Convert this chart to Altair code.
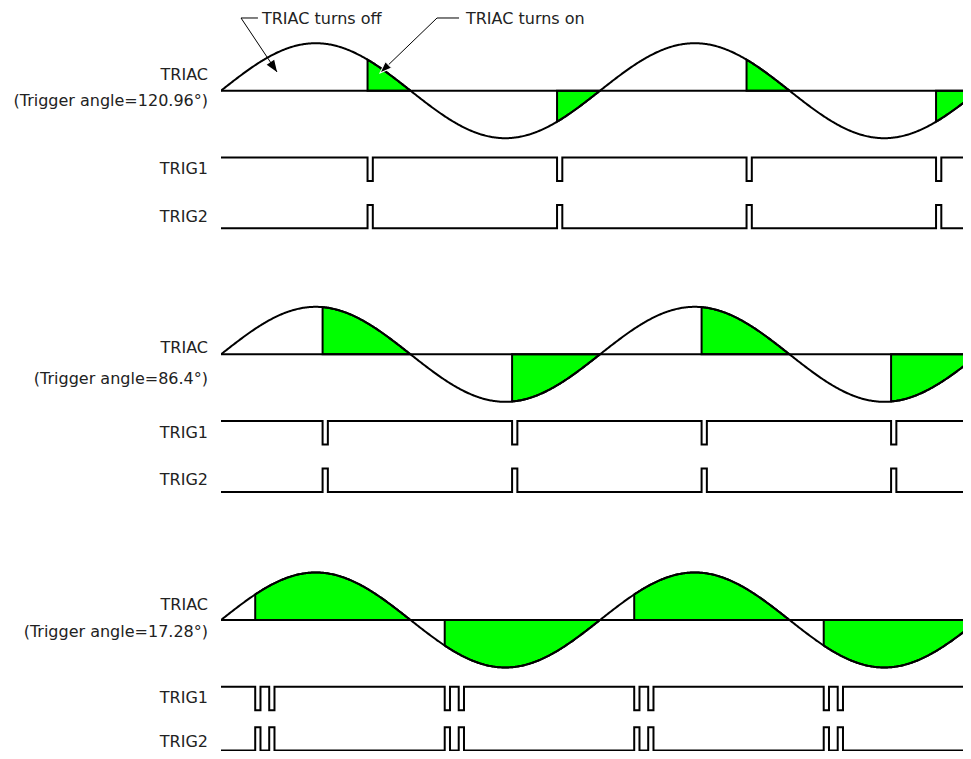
import numpy as np
import pandas as pd
import altair as alt

# ---------------- values ----------------
panels = [0, 1, 2]
trigger_angle_text = ["120.96°", "86.4°", "17.28°"]
# firing point after every zero crossing, as drawn (degrees)
firing_deg = [139.2, 96.5, 32.5]
# trigger pulse starts after every zero crossing (degrees)
pulse_start_deg = [[139.2], [96.5], [32.5, 45.8]]
pulse_width_deg = 5.0
half_cycles = [0, 1, 2, 3]
trig_names = ["TRIG1", "TRIG2"]
annotation_texts = ["TRIAC turns off", "TRIAC turns on"]

# ---------------- layout (signal units: 1 = sine amplitude) ----------------
PXD = 189.5 / 180          # pixels per degree
PXU = 47.5                 # pixels per signal unit
W, H = 742, 743
BASE = [-1.741, -7.291, -12.884]          # zero line of each panel
T1_HIGH, T1_LOW = -1.404, -1.901          # TRIG1 levels below zero line
T2_HIGH, T2_LOW = -2.406, -2.897          # TRIG2 levels below zero line
T2_SHIFT = [0.0, 0.0, 7 / PXU]            # keep last trace inside the page
T2_LABEL_SHIFT = [0.0, 0.0, 3.5 / PXU]
TRIAC_DY = [0.33, 0.133, 0.32]
ANGLE_DY = [-0.21, -0.51, -0.25]
X_MAX = W / PXD
Y_MIN = -H / PXU
FONT = "DejaVu Sans"
TXT = "#222222"
GREEN = "#00ff00"

theta = np.arange(0, 721, 1.0)

sine_rows, zero_rows, fill_rows, trig_rows, lab_rows = [], [], [], [], []
for p in panels:
    b = BASE[p]
    for t in theta:
        sine_rows.append({"panel": p, "theta": t, "v": b + np.sin(np.radians(t))})
    zero_rows.append({"panel": p, "x": 0.0, "x2": 720.0, "v": b})
    for h in half_cycles:
        t0 = h * 180 + firing_deg[p]
        t1 = (h + 1) * 180
        ts = np.concatenate([[t0], np.arange(np.ceil(t0), t1, 1.0), [t1]])
        for t in ts:
            fill_rows.append({"seg": f"{p}-{h}", "theta": t,
                              "v": b + np.sin(np.radians(t)), "v0": b})
    # trigger pulse trains
    for s, name in enumerate(trig_names):
        if s == 0:
            idle, act = b + T1_HIGH, b + T1_LOW
            lab_v = b + (T1_HIGH + T1_LOW) / 2
        else:
            idle, act = b + T2_LOW + T2_SHIFT[p], b + T2_HIGH + T2_SHIFT[p]
            lab_v = b + (T2_HIGH + T2_LOW) / 2 + T2_LABEL_SHIFT[p]
        pts = [(0.0, idle)]
        for h in half_cycles:
            for st in pulse_start_deg[p]:
                a = h * 180 + st
                pts += [(a, idle), (a, act), (a + pulse_width_deg, act),
                        (a + pulse_width_deg, idle)]
        pts.append((720.0, idle))
        for i, (x, v) in enumerate(pts):
            trig_rows.append({"sig": f"{p}-{name}", "i": i, "theta": x, "v": v})
        lab_rows.append({"text": name, "v": lab_v})
    lab_rows.append({"text": "TRIAC", "v": b + TRIAC_DY[p]})
    lab_rows.append({"text": f"(Trigger angle={trigger_angle_text[p]})",
                     "v": b + ANGLE_DY[p]})

sine_df = pd.DataFrame(sine_rows)
zero_df = pd.DataFrame(zero_rows)
fill_df = pd.DataFrame(fill_rows)
trig_df = pd.DataFrame(trig_rows)
lab_df = pd.DataFrame(lab_rows)

xs = alt.Scale(domain=[0, X_MAX], nice=False, zero=False)
ys = alt.Scale(domain=[Y_MIN, 0], nice=False, zero=False)
X = lambda f: alt.X(f, type="quantitative", scale=xs, axis=None)
Y = lambda f: alt.Y(f, type="quantitative", scale=ys, axis=None)

fill = alt.Chart(fill_df).mark_area(
    color=GREEN, stroke="black", strokeWidth=2, clip=True, interpolate="linear"
).encode(x=X("theta"), y=Y("v"), y2="v0", detail="seg:N")

zero = alt.Chart(zero_df).mark_rule(color="black", strokeWidth=2, clip=True).encode(
    x=X("x"), x2="x2", y=Y("v"))

sine = alt.Chart(sine_df).mark_line(color="black", strokeWidth=2, clip=True).encode(
    x=X("theta"), y=Y("v"), detail="panel:N")

trig = alt.Chart(trig_df).mark_line(color="black", strokeWidth=2, clip=True).encode(
    x=X("theta"), y=Y("v"), detail="sig:N", order="i:Q")

labels = alt.Chart(lab_df).mark_text(
    align="right", baseline="middle", font=FONT, fontSize=16, color=TXT
).encode(x=alt.value(-13), y=Y("v"), text="text:N")

# ---------------- annotations (degrees / signal units) ----------------
ann = pd.DataFrame({
    "text": annotation_texts,
    "ex": [19.0, 205.2], "ey": [-0.2105, -0.2105],     # elbow
    "hx": [35.1, 226.1],                                # end of horizontal stub
    "tx": [38.9, 232.7], "ty": [-0.232, -0.232],        # text anchor
    "px": [53.2, 151.0], "py": [-1.347, -1.368],        # arrow tip
})
stub = alt.Chart(ann).mark_rule(color="black", strokeWidth=1).encode(
    x=X("ex"), x2="hx", y=Y("ey"))
lead = alt.Chart(ann).mark_rule(color="black", strokeWidth=1).encode(
    x=X("ex"), x2="px", y=Y("ey"), y2="py")
ann_text = alt.Chart(ann).mark_text(
    align="left", baseline="middle", font=FONT, fontSize=16, color=TXT
).encode(x=X("tx"), y=Y("ty"), text="text:N")

head_path = "M0,0L-0.38,1L0.38,1Z"
heads = []
for i in range(2):
    dx = (ann.px[i] - ann.ex[i]) * PXD
    dy = -(ann.py[i] - ann.ey[i]) * PXU
    ang = (np.degrees(np.arctan2(dy, dx)) + 90) % 360
    heads.append(
        alt.Chart(ann.iloc[[i]]).mark_point(
            shape=head_path, filled=True, fill="black", size=560, angle=float(ang),
            stroke="white" if i == 1 else "black", strokeWidth=1 if i == 1 else 0,
            opacity=1,
        ).encode(x=X("px"), y=Y("py"))
    )

chart = alt.layer(fill, zero, sine, trig, labels, stub, lead, ann_text, *heads).properties(
    width=W, height=H,
    padding={"left": 213, "top": 0, "right": 0, "bottom": 0},
    autosize=alt.AutoSizeParams(type="none"),
).configure_view(stroke=None)

chart.save("out.html", embed_options={"renderer": "svg", "actions": False})
